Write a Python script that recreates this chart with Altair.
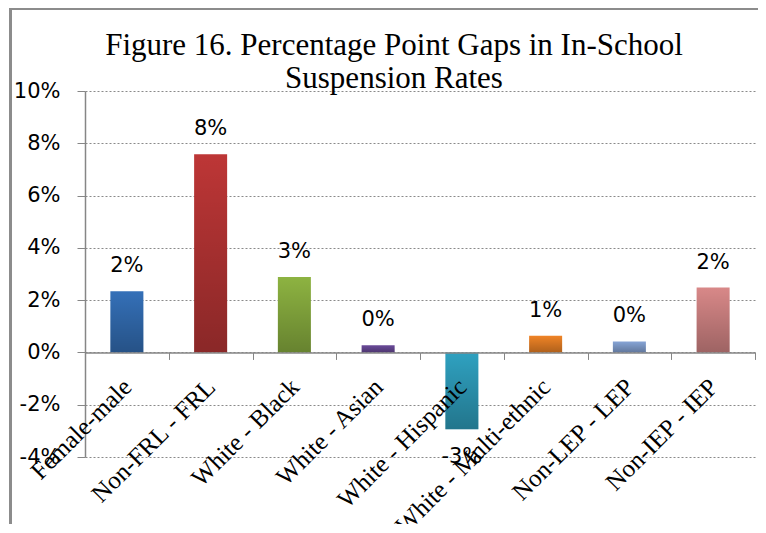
import altair as alt
import pandas as pd

categories = ["Female-male", "Non-FRL - FRL", "White - Black", "White - Asian",
              "White - Hispanic", "White - Multi-ethnic", "Non-LEP - LEP", "Non-IEP - IEP"]
values = [0.0234, 0.0758, 0.0289, 0.0027, -0.0294, 0.0064, 0.0042, 0.0248]
colors = ["#3470B8", "#BD3636", "#8DB341", "#6A4A99", "#2FA1C0", "#F08426", "#86A4D6", "#D88888"]
y_ticks = [-0.04, -0.02, 0.0, 0.02, 0.04, 0.06, 0.08, 0.10]
title_lines = ["Figure 16. Percentage  Point Gaps in In-School", "Suspension Rates"]

df = pd.DataFrame({"category": categories, "value": values})

W, H = 670, 366
GRAY = "#868686"

x_enc = alt.X("category:N", sort=categories,
              scale=alt.Scale(paddingInner=0, paddingOuter=0),
              axis=alt.Axis(title=None, offset=-H * 4 / 14, tickBand="extent", zindex=1,
                            grid=False,
                            labelAngle=-45, labelAlign="right", labelBaseline="middle",
                            labelFont="Liberation Serif", labelFontSize=25, labelColor="black",
                            labelPadding=23, labelLimit=400, labelOverlap=False,
                            tickSize=7, tickColor=GRAY, domainColor=GRAY, domainWidth=1.5))
y_enc = alt.Y("value:Q", scale=alt.Scale(domain=[-0.04, 0.10], nice=False, zero=False),
              axis=alt.Axis(title=None, values=y_ticks, format=".0%",
                            labelExpr="replace(datum.label, '\u2212', '-')",
                            grid=True, gridDash=[2, 2], gridColor="#8a8a8a",
                            domainColor=GRAY, domainWidth=1.5, tickColor=GRAY, tickSize=8,
                            labelFont="DejaVu Sans", labelFontSize=21, labelColor="black",
                            labelPadding=17))

base = alt.Chart(df).transform_calculate(
    lbl="replace(format(datum.value, '.0%'), '\u2212', '-')")

bars = base.mark_bar(width=33).encode(
    x=x_enc, y=y_enc, y2=alt.datum(0),
    color=alt.Color("category:N", sort=categories,
                    scale=alt.Scale(domain=categories, range=colors), legend=None),
)

shade = base.mark_bar(width=33, color=alt.Gradient(
    gradient="linear",
    stops=[alt.GradientStop(color="rgba(0,0,0,0)", offset=0),
           alt.GradientStop(color="rgba(0,0,0,0.27)", offset=1)],
    x1=0, x2=0, y1=0, y2=1)).encode(
    x=alt.X("category:N", sort=categories), y="value:Q", y2=alt.datum(0))

pos_labels = base.transform_filter("datum.value >= 0").mark_text(
    font="DejaVu Sans", fontSize=21, color="black", baseline="alphabetic", dy=-19
).encode(x=alt.X("category:N", sort=categories), y="value:Q", text="lbl:N")

neg_labels = base.transform_filter("datum.value < 0").mark_text(
    font="DejaVu Sans", fontSize=21, color="black", baseline="top", dy=17
).encode(x=alt.X("category:N", sort=categories), y="value:Q", text="lbl:N")

border_left = alt.Chart().mark_rect(color="#8c8c8c").encode(
    x=alt.value(-76), x2=alt.value(-73), y=alt.value(-83), y2=alt.value(H + 67))
border_top = alt.Chart().mark_rect(color="#8c8c8c").encode(
    x=alt.value(-76), x2=alt.value(W + 3), y=alt.value(-83), y2=alt.value(-81))

chart = alt.layer(bars, shade, pos_labels, neg_labels, border_left, border_top).properties(
    width=W, height=H,
    autosize=alt.AutoSizeParams(type="none"),
    padding={"left": 77, "top": 83, "right": 3, "bottom": 67},
    title=alt.TitleParams(text=title_lines, font="Liberation Serif", fontSize=31,
                          fontWeight="normal", color="black", anchor="middle",
                          frame="group", dx=-26, offset=-87, lineHeight=33),
).configure_view(stroke=None)

chart.save("out.html", embed_options={"renderer": "svg", "actions": False})
